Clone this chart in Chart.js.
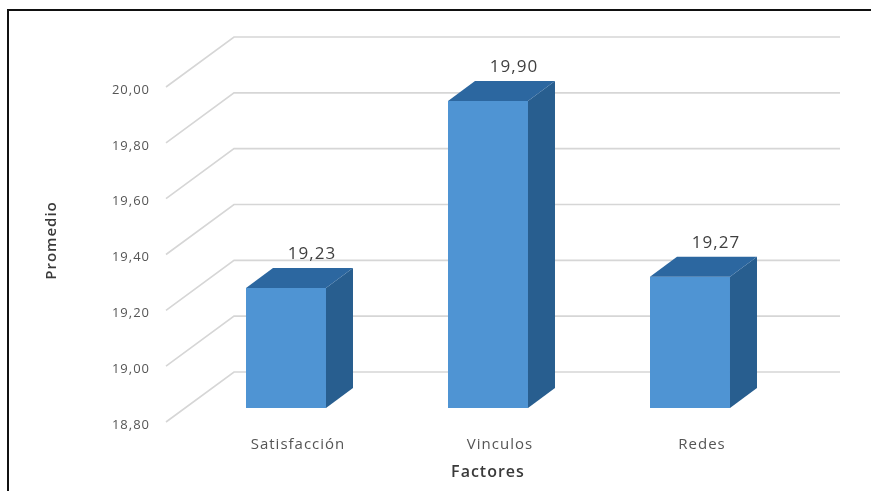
<!DOCTYPE html>
<html>
<head>
<meta charset="utf-8">
<script src="https://cdn.jsdelivr.net/npm/chart.js@4"></script>
<style>
  html, body { margin:0; padding:0; background:#fff; overflow:hidden; width:871px; height:491px; }
  #frame { position:absolute; left:7px; top:9px; width:2000px; height:2000px; border:2px solid #111; box-sizing:border-box; }
  #c { position:absolute; left:0; top:0; }
</style>
</head>
<body>
<div id="frame"></div>
<canvas id="c" width="871" height="491"></canvas>
<script>
const categories = ['Satisfacción', 'Vinculos', 'Redes'];
const promedio = [19.23, 19.90, 19.27];
const yTicks = [18.80, 19.00, 19.20, 19.40, 19.60, 19.80, 20.00];

const FRONT = '#4f94d3';
const SIDE = '#285e8f';
const TOP = '#2c67a0';
const GRID = '#d6d6d6';
const DEPTH_X = 27, DEPTH_Y = -20;   // bar depth
const fmt = v => Number(v).toFixed(2).replace('.', ',');

const spacing = {
  id: 'spacing',
  beforeDraw(chart) { chart.ctx.letterSpacing = '1px'; }
};

const grid3d = {
  id: 'grid3d',
  beforeDatasetsDraw(chart) {
    const ctx = chart.ctx, y = chart.scales.y, a = chart.chartArea;
    ctx.save();
    ctx.strokeStyle = GRID;
    ctx.lineWidth = 1.6;
    yTicks.forEach(v => {
      const py = y.getPixelForValue(v);
      ctx.beginPath();
      ctx.moveTo(a.left - 19, py + 14);
      ctx.lineTo(a.left + 49, py - 36);
      ctx.lineTo(a.right + 49, py - 36);
      ctx.stroke();
    });
    ctx.restore();
  },
  afterDatasetsDraw(chart) {
    const ctx = chart.ctx;
    const yScale = chart.scales.y;
    const base = yScale.getPixelForValue(yScale.min);
    const meta = chart.getDatasetMeta(0);
    ctx.save();
    meta.data.forEach((el, i) => {
      const p = el.getProps(['x', 'y', 'width'], true);
      const l = p.x - p.width / 2, r = p.x + p.width / 2;
      // side face
      ctx.fillStyle = SIDE;
      ctx.beginPath();
      ctx.moveTo(r, p.y);
      ctx.lineTo(r + DEPTH_X, p.y + DEPTH_Y);
      ctx.lineTo(r + DEPTH_X, base + DEPTH_Y);
      ctx.lineTo(r, base);
      ctx.closePath();
      ctx.fill();
      // top face
      ctx.fillStyle = TOP;
      ctx.beginPath();
      ctx.moveTo(l, p.y);
      ctx.lineTo(l + DEPTH_X, p.y + DEPTH_Y);
      ctx.lineTo(r + DEPTH_X, p.y + DEPTH_Y);
      ctx.lineTo(r, p.y);
      ctx.closePath();
      ctx.fill();
      // value label
      ctx.letterSpacing = '1px';
      ctx.fillStyle = '#404040';
      ctx.font = '17px "Open Sans"';
      ctx.textAlign = 'center';
      ctx.textBaseline = 'middle';
      ctx.fillText(fmt(promedio[i]), p.x + 26, p.y - 34);
    });
    ctx.restore();
  }
};

new Chart(document.getElementById('c'), {
  type: 'bar',
  data: {
    labels: categories,
    datasets: [{
      data: promedio,
      backgroundColor: FRONT,
      borderWidth: 0,
      categoryPercentage: 1,
      barPercentage: 0.396
    }]
  },
  options: {
    responsive: false,
    animation: false,
    events: [],
    layout: { padding: { left: 39, right: 80, top: 73, bottom: 5 } },
    plugins: { legend: { display: false }, tooltip: { enabled: false } },
    scales: {
      x: {
        grid: { display: false, drawTicks: false },
        border: { display: false },
        ticks: { padding: 28, labelOffset: 12, color: '#555', font: { family: 'Open Sans', size: 15 } },
        title: { display: true, text: 'Factores', color: '#3a3a3a', font: { family: 'Open Sans', size: 16, weight: '600' } },
        afterFit(s) { s.height = 78; }
      },
      y: {
        min: 18.8,
        max: 20.0,
        grid: { display: false, drawTicks: false },
        border: { display: false },
        afterBuildTicks(s) { s.ticks = yTicks.map(v => ({ value: v })); },
        ticks: { padding: 35, labelOffset: 17, color: '#555', font: { family: 'Open Sans', size: 13 }, callback: v => fmt(v) },
        title: { display: true, text: 'Promedio', color: '#3a3a3a', font: { family: 'Open Sans', size: 15, weight: '600' } },
        afterFit(s) { s.width = 146; }
      }
    }
  },
  plugins: [spacing, grid3d]
});
</script>
</body>
</html>
